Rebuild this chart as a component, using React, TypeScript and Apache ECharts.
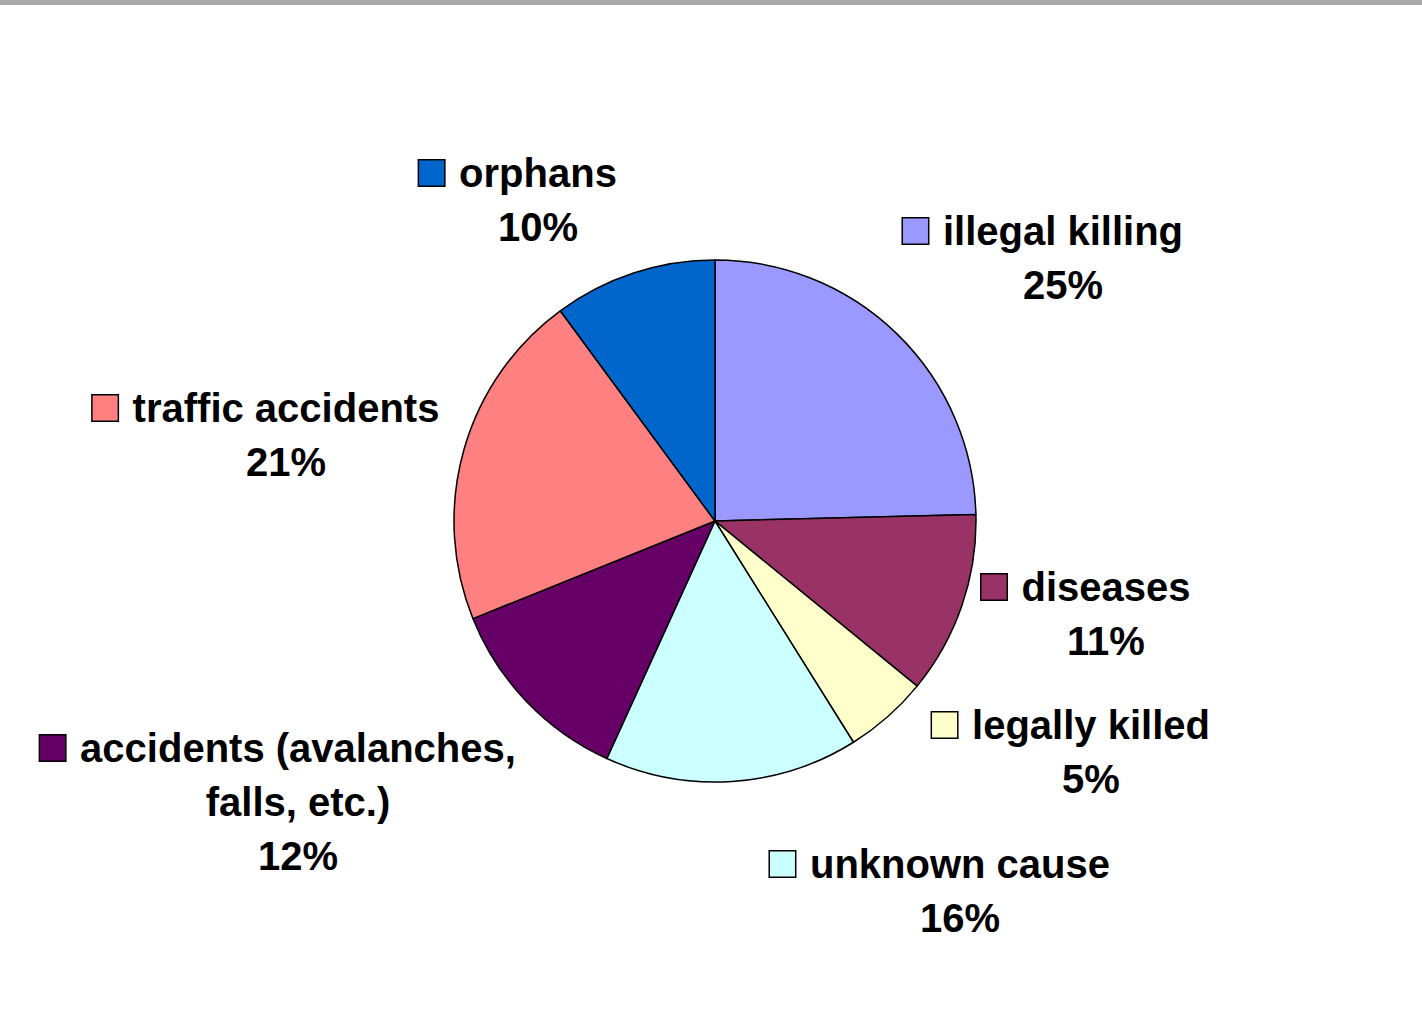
import React, { useEffect, useRef } from "react";
import * as echarts from "echarts";

const CATEGORIES = [
  "illegal killing",
  "diseases",
  "legally killed",
  "unknown cause",
  "accidents (avalanches,\nfalls, etc.)",
  "traffic accidents",
  "orphans",
];
const VALUES = [24.6, 11.3, 5.2, 15.7, 12.1, 21.0, 10.1];
const COLORS = ["#9999FF", "#993366", "#FFFFCC", "#CCFFFF", "#660066", "#FF8080", "#0066CC"];

// label block centres, as offsets from the pie centre (layout styling)
const LABEL_OFFSETS: [number, number][] = [
  [348, -263],
  [391, 93],
  [376, 231],
  [245, 370],
  [-417, 281],
  [-429, -86],
  [-177, -321],
];

const CX = 715;
const CY = 521;
const R = 261;

export default function App() {
  const ref = useRef<HTMLDivElement>(null);
  useEffect(() => {
    if (!ref.current) return;
    const chart = echarts.init(ref.current, undefined, { renderer: "svg" });
    const font = "'Liberation Sans', Arial, sans-serif";
    const data = VALUES.map((v, i) => ({
      value: v,
      name: CATEGORIES[i],
      itemStyle: { color: COLORS[i] },
      label: {
        rich: {
          m: { width: 25, height: 25, backgroundColor: COLORS[i], borderColor: "#000", borderWidth: 1.5 },
          g: { width: 15, height: 25 },
          s: { width: 40, height: 25 },
          n: { fontSize: 40, fontWeight: "bold", fontFamily: font, color: "#000", lineHeight: 54 },
        },
      },
    }));
    chart.setOption({
      animation: false,
      backgroundColor: "#ffffff",
      graphic: [
        { type: "rect", shape: { x: 0, y: 0, width: 1422, height: 5 }, style: { fill: "#a9a9a9" }, silent: true },
      ],
      series: [
        {
          type: "pie",
          center: [CX, CY],
          radius: R,
          startAngle: 90,
          clockwise: true,
          percentPrecision: 0,
          avoidLabelOverlap: false,
          itemStyle: { borderColor: "#000", borderWidth: 1.5 },
          labelLine: { show: false },
          emphasis: { disabled: true },
          label: {
            show: true,
            position: "outside",
            fontFamily: font,
            formatter: (p: any) => {
              const lines = String(p.name).split("\n");
              const out = ["{m|}{g|}{n|" + lines[0] + "}{s|}"];
              for (let k = 1; k < lines.length; k++) out.push("{n|" + lines[k] + "}");
              out.push("{n|" + p.percent + "%}");
              return out.join("\n");
            },
          },
          labelLayout: (p: any) => {
            const o = LABEL_OFFSETS[p.dataIndex];
            return { x: CX + o[0], y: CY + o[1], align: "center", verticalAlign: "middle" };
          },
          data,
        },
      ],
    });
    return () => chart.dispose();
  }, []);
  return (
    <div
      ref={ref}
      style={{ position: "fixed", left: 0, top: 0, width: 1422, height: 1009, background: "#fff" }}
    />
  );
}
